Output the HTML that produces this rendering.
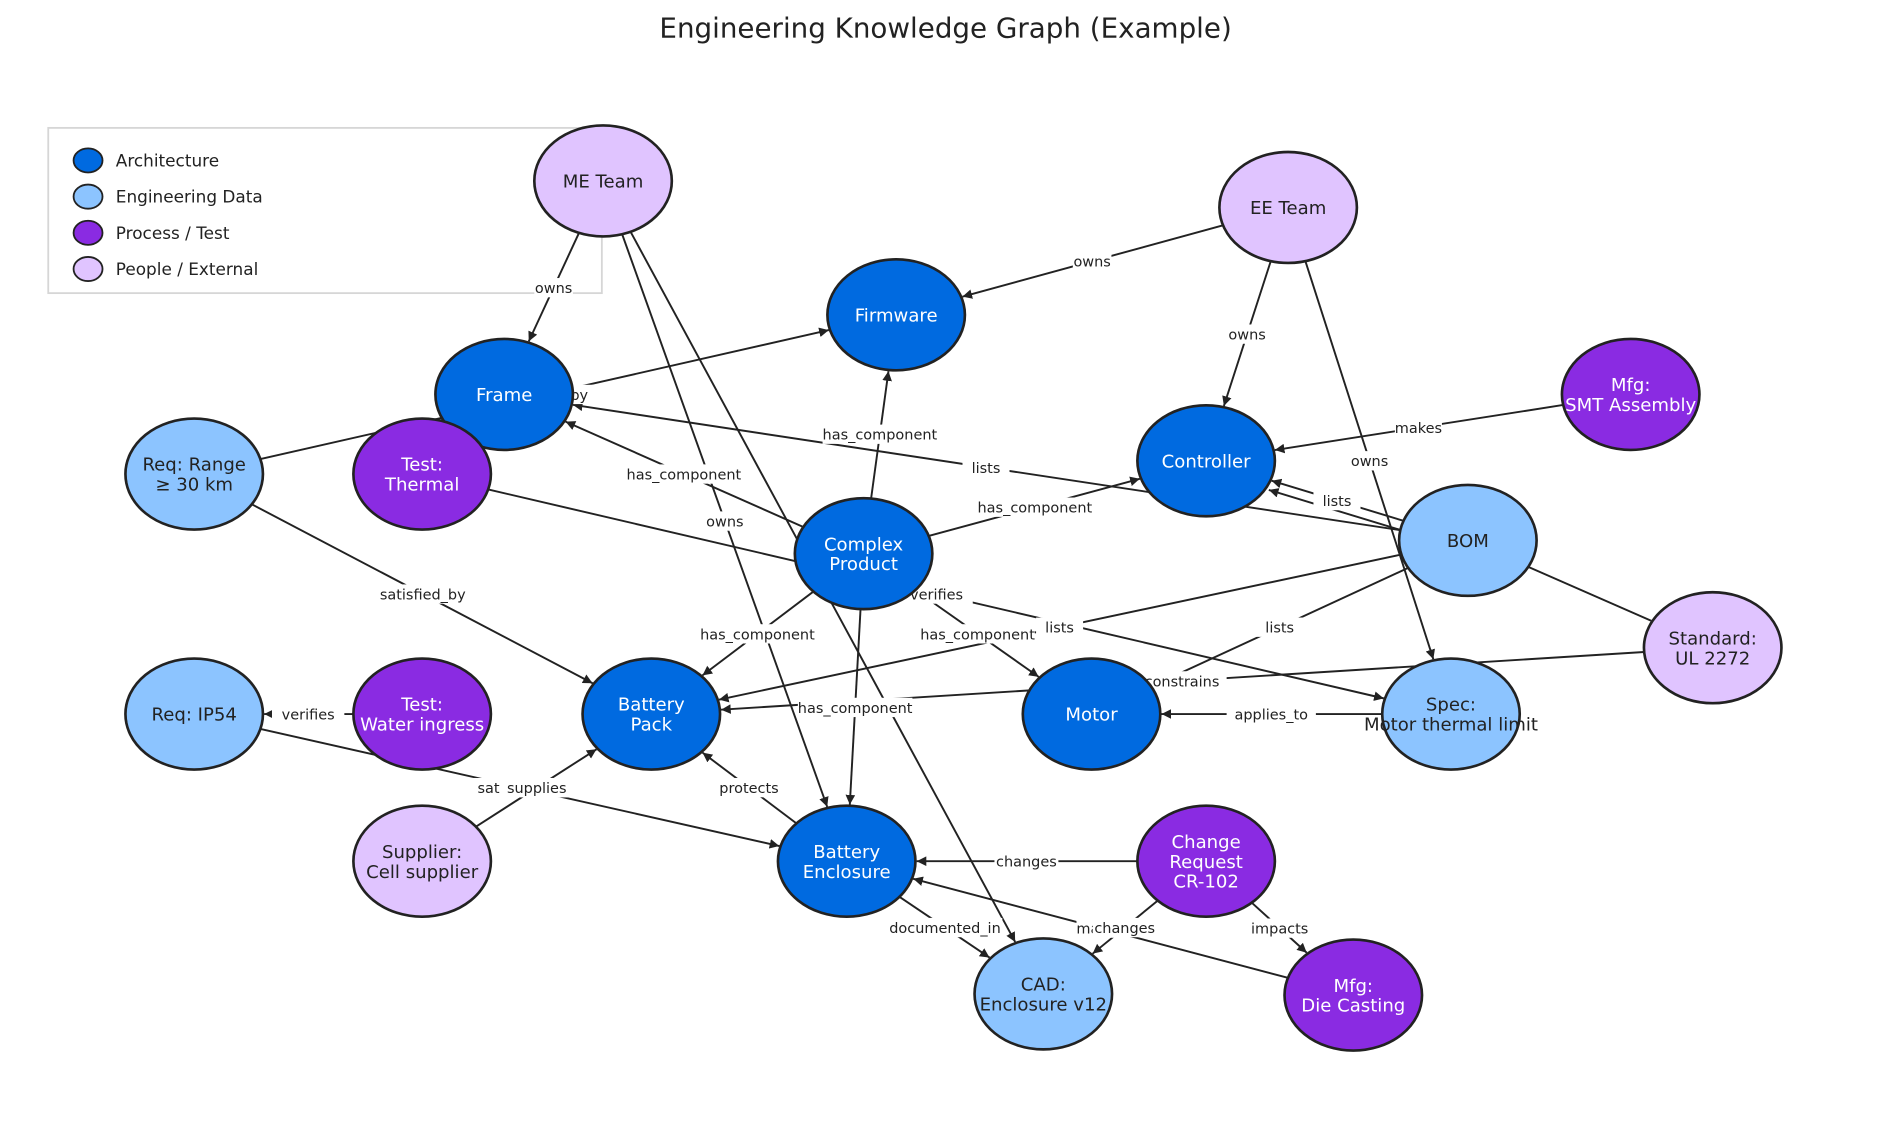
<!DOCTYPE html>
<html><head><meta charset="utf-8"><style>
html,body{margin:0;padding:0;background:#fff;}
svg{display:block;font-family:"DejaVu Sans","Liberation Sans",sans-serif;}
</style></head><body>
<svg id="g" width="1890" height="1129" viewBox="0 0 1567 936" xmlns="http://www.w3.org/2000/svg">
<defs><marker id="a" viewBox="0 0 10 10" refX="10" refY="5" markerWidth="8" markerHeight="8" markerUnits="userSpaceOnUse" orient="auto"><path d="M0,0 L10,5 L0,10 z" fill="#222"/></marker></defs>
<text x="784" y="31" text-anchor="middle" font-size="23" fill="#222">Engineering Knowledge Graph (Example)</text>
<rect x="40" y="106" width="459" height="137" fill="#fff" stroke="#d6d6d6" stroke-width="1.5"/>
<g id="edges"></g><g id="labels"></g><g id="nodes"></g>
<g font-size="14" fill="#222">
<ellipse cx="73" cy="133" rx="12" ry="10" fill="#006ae0" stroke="#222" stroke-width="1.5"/><text x="96" y="138">Architecture</text>
<ellipse cx="73" cy="163" rx="12" ry="10" fill="#8cc4ff" stroke="#222" stroke-width="1.5"/><text x="96" y="168">Engineering Data</text>
<ellipse cx="73" cy="193" rx="12" ry="10" fill="#8a2be2" stroke="#222" stroke-width="1.5"/><text x="96" y="198">Process / Test</text>
<ellipse cx="73" cy="223" rx="12" ry="10" fill="#e0c4ff" stroke="#222" stroke-width="1.5"/><text x="96" y="228">People / External</text>
</g>
</svg>
<script>
var C={A:"#006ae0",E:"#8cc4ff",P:"#8a2be2",X:"#e0c4ff"};
var N={
me:[500,150,"X",["ME Team"]],ee:[1068,172,"X",["EE Team"]],fw:[743,261,"A",["Firmware"]],
fr:[418,327,"A",["Frame"]],ct:[1000,382,"A",["Controller"]],smt:[1352,327,"P",["Mfg:","SMT Assembly"]],
rr:[161,393,"E",["Req: Range","≥ 30 km"]],tt:[350,393,"P",["Test:","Thermal"]],cp:[716,459,"A",["Complex","Product"]],
bom:[1217,448,"E",["BOM"]],ul:[1420,537,"X",["Standard:","UL 2272"]],ip:[161,592,"E",["Req: IP54"]],
tw:[350,592,"P",["Test:","Water ingress"]],bp:[540,592,"A",["Battery","Pack"]],mo:[905,592,"A",["Motor"]],
sp:[1203,592,"E",["Spec:","Motor thermal limit"]],su:[350,714,"X",["Supplier:","Cell supplier"]],
be:[702,714,"A",["Battery","Enclosure"]],cr:[1000,714,"P",["Change","Request","CR-102"]],
cad:[865,824,"E",["CAD:","Enclosure v12"]],dc:[1122,825,"P",["Mfg:","Die Casting"]]};
var E=[["me","fr","owns"],["me","be","owns"],["me","cad",""],["ee","fw","owns"],["ee","ct","owns"],["ee","sp","owns"],
["rr","fw","satisfied_by"],["smt","ct","makes"],["cp","fr","has_component"],["cp","fw","has_component"],["cp","ct","has_component"],
["cp","bp","has_component"],["cp","mo","has_component"],["cp","be","has_component"],["bom","fr","lists"],["bom","ct","lists",1],
["bom","ct","",1,-8],["tt","sp","verifies"],["bom","bp","lists"],["bom","mo","lists"],["ul","bp","constrains"],["sp","mo","applies_to"],
["bom","ul","",0],["rr","bp","satisfied_by"],["tw","ip","verifies"],["ip","be","satisfied_by"],["su","bp","supplies"],
["be","bp","protects"],["cr","be","changes"],["dc","be","makes"],["cr","cad","changes"],["cr","dc","impacts"],["be","cad","documented_in"]];
var ns="http://www.w3.org/2000/svg";
function el(t,a,p){var e=document.createElementNS(ns,t);for(var k in a)e.setAttribute(k,a[k]);p.appendChild(e);return e;}
var ge=document.getElementById("edges"),gl=document.getElementById("labels"),gn=document.getElementById("nodes");
function clip(c,dx,dy,g){var t=1/Math.sqrt(Math.pow(dx/(57+g),2)+Math.pow(dy/(46+g),2));return [c[0]+dx*t,c[1]+dy*t];}
E.forEach(function(e){var s=N[e[0]],t=N[e[1]];var dx=t[0]-s[0],dy=t[1]-s[1];var off=e[4]||0;
var L=Math.hypot(dx,dy),ox=-dy/L*off,oy=dx/L*off;
var p1=clip([s[0]+ox,s[1]+oy],dx,dy,0),p2=clip([t[0]+ox,t[1]+oy],-dx,-dy,1);
var a={x1:p1[0],y1:p1[1],x2:p2[0],y2:p2[1],stroke:"#222","stroke-width":1.6};
if(e[3]!==0)a["marker-end"]="url(#a)";el("line",a,ge);
if(e[2]){var mx=(s[0]+t[0])/2,my=(s[1]+t[1])/2;var w=e[2].length*7+4;
el("rect",{x:mx-w/2,y:my-8,width:w,height:16,fill:"#fff"},gl);
var tx=el("text",{x:mx,y:my+4.5,"text-anchor":"middle","font-size":"12",fill:"#222"},gl);tx.textContent=e[2];}});
for(var k in N){var n=N[k];el("ellipse",{cx:n[0],cy:n[1],rx:57,ry:46,fill:C[n[2]],stroke:"#222","stroke-width":2.2},gn);
var col=(n[2]=="A"||n[2]=="P")?"#fff":"#222";var ls=n[3],h=16.5,y0=n[1]-(ls.length-1)*h/2+5.5;
ls.forEach(function(l,i){var t=el("text",{x:n[0],y:y0+i*h,"text-anchor":"middle","font-size":"15",fill:col},gn);t.textContent=l;});}
</script>
</body></html>
